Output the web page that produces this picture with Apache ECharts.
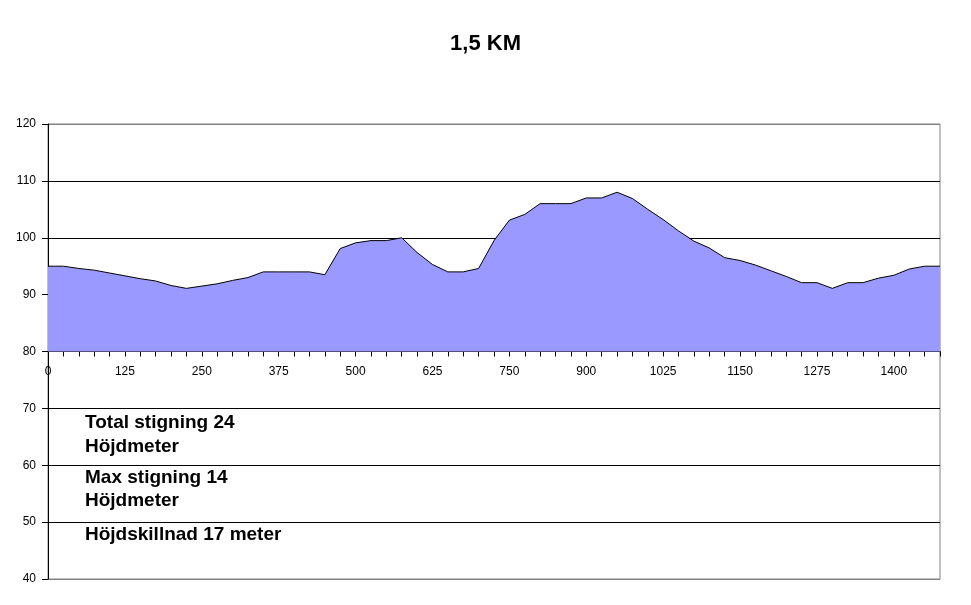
<!DOCTYPE html>
<html>
<head>
<meta charset="utf-8">
<script src="https://cdn.jsdelivr.net/npm/echarts@6/dist/echarts.min.js"></script>
<style>html,body{margin:0;padding:0;background:#fff}#c{width:971px;height:605px}</style>
</head>
<body>
<div id="c"></div>
<script>
const titleText = '1,5 KM';
const categories = ['0','25','50','75','100','125','150','175','200','225','250','275','300','325','350','375','400','425','450','475','500','525','550','575','600','625','650','675','700','725','750','775','800','825','850','900','925','950','975','1000','1025','1050','1075','1100','1125','1150','1175','1200','1225','1250','1275','1300','1325','1350','1375','1400','1425','1450','1475'];
const elevation = [95,95,94.6,94.3,93.8,93.3,92.8,92.4,91.6,91.1,91.5,91.9,92.5,93.0,94,94,94,94,93.5,98.1,99.1,99.5,99.5,100,97.4,95.3,94,94,94.6,99.5,103.1,104.1,106,106,106,107,107,108,106.9,105,103.2,101.2,99.4,98.2,96.5,96,95.2,94.2,93.2,92.1,92.1,91.1,92.1,92.1,92.9,93.4,94.5,95,95];
const yTicks = {min: 40, max: 120, interval: 10};
const notes = ['Total stigning 24','Höjdmeter','Max stigning 14','Höjdmeter','Höjdskillnad 17 meter'];
const noteY = [423,447,478,501,535];

const chart = echarts.init(document.getElementById('c'), null, {renderer: 'canvas'});
const gridTop = 124, gridBottom = 26, gridH = 605 - gridTop - gridBottom;
const axisOffset = -gridH * (80 - yTicks.min) / (yTicks.max - yTicks.min);
const splitColors = [];
for (let v = yTicks.min; v <= yTicks.max; v += yTicks.interval) {
  splitColors.push(v === yTicks.min || v === yTicks.max ? '#808080' : '#000000');
}
const font = 'Arial, "Liberation Sans", sans-serif';
chart.setOption({
  backgroundColor: '#ffffff',
  animation: false,
  title: {
    text: titleText, left: 'center', top: 28,
    textStyle: {fontFamily: font, fontSize: 22, fontWeight: 'bold', color: '#000'}
  },
  grid: {left: 48, right: 31, top: gridTop, bottom: gridBottom, show: true, borderColor: '#808080', borderWidth: 1, containLabel: false},
  xAxis: {
    type: 'category', data: categories, boundaryGap: false, offset: axisOffset,
    axisLine: {show: true, onZero: false, lineStyle: {color: '#000', width: 1}},
    axisTick: {show: true, interval: 0, length: 5, lineStyle: {color: '#000'}},
    axisLabel: {interval: 4, color: '#000', fontFamily: font, fontSize: 12, margin: 14},
    splitLine: {show: false}
  },
  yAxis: {
    type: 'value', min: yTicks.min, max: yTicks.max, interval: yTicks.interval,
    axisLine: {show: true, lineStyle: {color: '#000', width: 1}},
    axisTick: {show: true, length: 6, lineStyle: {color: '#000'}},
    axisLabel: {color: '#000', fontFamily: font, fontSize: 12, margin: 12},
    splitLine: {show: true, lineStyle: {color: splitColors, width: 1}}
  },
  graphic: notes.map((t, i) => ({
    type: 'text', left: 85, top: noteY[i] - 10, z: 100,
    style: {text: t, fill: '#000', font: 'bold 19px ' + font}
  })),
  series: [{
    type: 'line', data: elevation, showSymbol: false, symbol: 'none',
    lineStyle: {color: '#000', width: 1},
    areaStyle: {color: '#9999ff', opacity: 1, origin: 80},
    z: 3
  }]
});
</script>
</body>
</html>
